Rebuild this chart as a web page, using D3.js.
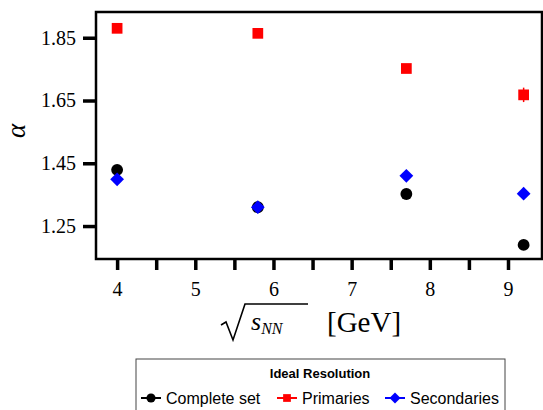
<!DOCTYPE html>
<head>
  <script src="https://d3js.org/d3.v7.min.js"></script>
  <meta charset='utf-8'>
  <style>
    body { margin: 0; background: white; }
    svg text.tex { font-family: "Liberation Serif", "DejaVu Serif", serif; }
    svg text.sans { font-family: "Liberation Sans", Helvetica, Arial, sans-serif; }
  </style>
</head>
<body>
<div id="chart"></div>
<script>

var energies = [4, 5.8, 7.7, 9.2];
var complete = [1.429, 1.31, 1.352, 1.19];
var primaries = [1.88, 1.864, 1.752, 1.668];
var primariesErr = [0.004, 0.008, 0.004, 0.023];
var secondaries = [1.399, 1.31, 1.41, 1.353];
var yTicks = [1.25, 1.45, 1.65, 1.85];
var xTicks = [4, 5, 6, 7, 8, 9];
var names = ["Complete set", "Primaries", "Secondaries"];

var margin = {top: 12, right: 1, bottom: 151, left: 96},
    width = 543 - margin.left - margin.right,
    height = 410 - margin.top - margin.bottom;

var svg = d3.select("#chart").append("svg")
    .attr("width", 543)
    .attr("height", 410)
  .append("g")
    .attr("transform", `translate(${margin.left},${margin.top})`);

var x = d3.scaleLinear().domain([3.73, 9.435]).range([0, width]);
var y = d3.scaleLinear().domain([1.145, 1.932]).range([height, 0]);

// axes (minor ticks at the half values)
var xAxis = svg.append("g")
    .attr("transform", `translate(0, ${height})`)
    .call(d3.axisBottom(x).tickValues(d3.range(4, 9.5, 0.5)).tickSize(11).tickSizeOuter(0)
      .tickFormat(function(d) { return xTicks.indexOf(d) >= 0 ? d : ""; }));
xAxis.select(".domain").remove();
xAxis.selectAll("line").attr("stroke-width", 3.5);
xAxis.selectAll("text").attr("class", "tex").attr("font-size", 20).attr("dy", "1.15em").attr("fill", "#000");

var yAxis = svg.append("g")
    .call(d3.axisLeft(y).tickValues(yTicks).tickSize(13).tickSizeOuter(0).tickFormat(d3.format(".2f")));
yAxis.select(".domain").remove();
yAxis.selectAll("line").attr("stroke-width", 3.5);
yAxis.selectAll("text").attr("class", "tex").attr("font-size", 20).attr("x", -20).attr("fill", "#000");

// frame
svg.append("rect")
    .attr("width", width)
    .attr("height", height)
    .attr("fill", "none")
    .attr("stroke", "#000")
    .attr("stroke-width", 2.5);

// error bars
svg.selectAll(".err")
  .data(energies)
  .enter().append("line")
    .attr("x1", function(d) { return x(d); })
    .attr("x2", function(d) { return x(d); })
    .attr("y1", function(d, i) { return y(primaries[i] - primariesErr[i]); })
    .attr("y2", function(d, i) { return y(primaries[i] + primariesErr[i]); })
    .attr("stroke", "red")
    .attr("stroke-width", 1.5);

var sym = {
  circle: d3.symbol().type(d3.symbolCircle).size(110),
  square: d3.symbol().type(d3.symbolSquare).size(115),
  diamond: d3.symbol().type(d3.symbolSquare).size(95)
};

svg.selectAll(".complete")
  .data(energies)
  .enter().append("path")
    .attr("d", sym.circle)
    .attr("transform", function(d, i) { return `translate(${x(d)},${y(complete[i])})`; })
    .attr("fill", "#000");

svg.selectAll(".primary")
  .data(energies)
  .enter().append("path")
    .attr("d", sym.square)
    .attr("transform", function(d, i) { return `translate(${x(d)},${y(primaries[i])})`; })
    .attr("fill", "red");

svg.selectAll(".secondary")
  .data(energies)
  .enter().append("path")
    .attr("d", sym.diamond)
    .attr("transform", function(d, i) { return `translate(${x(d)},${y(secondaries[i])}) rotate(45)`; })
    .attr("fill", "blue");

// y label
var root = d3.select("svg");
root.append("text")
    .attr("class", "tex")
    .attr("transform", "translate(16,131) rotate(-90)")
    .attr("text-anchor", "middle")
    .attr("dominant-baseline", "central")
    .attr("font-size", 27)
    .attr("font-style", "italic")
    .text("α");

// x label
root.append("path")
    .attr("d", "M221,325 L226,322 L233,340 L245,304 L308,304")
    .attr("fill", "none")
    .attr("stroke", "#000")
    .attr("stroke-width", 1.6);
var xl = root.append("text")
    .attr("class", "tex")
    .attr("x", 251)
    .attr("y", 330)
    .attr("font-size", 26);
xl.append("tspan").attr("font-style", "italic").text("s");
xl.append("tspan").attr("font-style", "italic").attr("font-size", 16).attr("dy", 4).text("NN");
root.append("text")
    .attr("class", "tex")
    .attr("x", 327)
    .attr("y", 332)
    .attr("font-size", 29)
    .text("[GeV]");

// legend
var lg = root.append("g");
lg.append("rect")
    .attr("x", 136).attr("y", 359)
    .attr("width", 369).attr("height", 60)
    .attr("fill", "white")
    .attr("stroke", "#444")
    .attr("stroke-width", 1);
lg.append("text")
    .attr("class", "sans")
    .attr("x", 320).attr("y", 378)
    .attr("text-anchor", "middle")
    .attr("font-size", 13)
    .attr("font-weight", "bold")
    .text("Ideal Resolution");

var colors = ["#000", "red", "blue"];
var lx = [141, 277, 385];
names.forEach(function(n, i) {
  lg.append("line")
      .attr("x1", lx[i]).attr("x2", lx[i] + 20)
      .attr("y1", 398).attr("y2", 398)
      .attr("stroke", colors[i]).attr("stroke-width", 2);
  lg.append("path")
      .attr("d", d3.symbol().type(i == 0 ? d3.symbolCircle : d3.symbolSquare).size(i == 0 ? 65 : 60))
      .attr("transform", `translate(${lx[i] + 10},398)` + (i == 2 ? " rotate(45)" : ""))
      .attr("fill", colors[i]);
  lg.append("text")
      .attr("class", "sans")
      .attr("x", lx[i] + 25).attr("y", 404)
      .attr("font-size", 16)
      .text(n);
});

</script>
</body>
